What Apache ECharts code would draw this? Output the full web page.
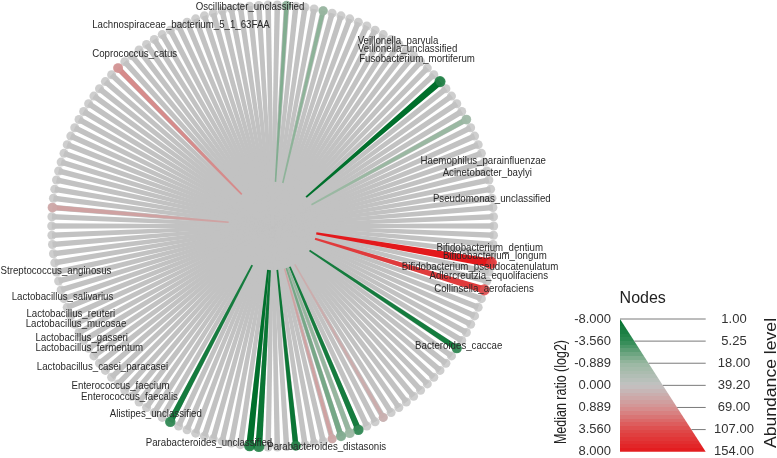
<!DOCTYPE html>
<html><head><meta charset="utf-8">
<script src="https://cdn.jsdelivr.net/npm/echarts/dist/echarts.min.js"></script>
<style>html,body{margin:0;padding:0;background:#fff}#c{width:777px;height:458px}</style>
</head><body><div id="c"></div>
<script>
// ---------------- DATA ----------------
const nodeCount = 150;
const nodeIds = Array.from({length: nodeCount}, (_, i) => 'node' + i);
// highlighted (coloured) nodes: position index around the circle, median ratio (log2), abundance
const hiIndex     = [1, 5, 20, 25, 41, 44, 51, 62, 65, 66, 67, 68, 72, 76, 77, 86, 114, 131];
const hiRatio     = [-1.5, -1.2, -8, -0.9, 8, 5, -6, 0.4, -6, -1.0, -1.8, 0.6, -7, -7, -8, -6, 0.6, 1.2];
const hiAbundance = [12, 12, 60, 20, 125, 60, 30, 8, 40, 25, 30, 8, 30, 60, 60, 40, 20, 25];
const ratioTicks = [-8, -3.56, -0.889, 0, 0.889, 3.56, 8];
const ratioTickLabels = ['-8.000', '-3.560', '-0.889', '0.000', '0.889', '3.560', '8.000'];
const abundanceTicks = [1, 5.25, 18, 39.2, 69, 107, 154];
const abundanceTickLabels = ['1.00', '5.25', '18.00', '39.20', '69.00', '107.00', '154.00'];
const labelNames = [
  'Oscillibacter_unclassified', 'Lachnospiraceae_bacterium_5_1_63FAA', 'Coprococcus_catus',
  'Veillonella_parvula', 'Veillonella_unclassified', 'Fusobacterium_mortiferum',
  'Haemophilus_parainfluenzae', 'Acinetobacter_baylyi', 'Pseudomonas_unclassified',
  'Bifidobacterium_dentium', 'Bifidobacterium_longum', 'Bifidobacterium_pseudocatenulatum',
  'Adlercreutzia_equolifaciens', 'Collinsella_aerofaciens', 'Bacteroides_caccae',
  'Parabacteroides_distasonis', 'Streptococcus_anginosus', 'Lactobacillus_salivarius',
  'Lactobacillus_reuteri', 'Lactobacillus_mucosae', 'Lactobacillus_gasseri',
  'Lactobacillus_fermentum', 'Lactobacillus_casei_paracasei', 'Enterococcus_faecium',
  'Enterococcus_faecalis', 'Alistipes_unclassified', 'Parabacteroides_unclassified'
];

// ---------------- LAYOUT / STYLE ----------------
const labelPos = [
  [250, 7], [181, 24.5], [134.7, 53.5],
  [398, 41], [407.5, 49], [417, 59],
  [483.3, 161], [487.3, 173], [491.8, 199],
  [489.7, 248], [494.8, 256], [480, 267],
  [488.8, 276], [484, 288.5], [458.7, 346],
  [326.7, 447], [56, 271], [62.5, 297],
  [70.8, 314], [76, 324], [81.7, 338],
  [89.3, 347.5], [102.5, 367], [120.5, 386],
  [129.5, 397], [155.8, 414], [209, 443]
];
const ratioColors = ['#00702c', '#2f8a53', '#9ab8a2', '#c2c2c2', '#d59393', '#df4b4b', '#e3191c'];
const GREY = '#c2c2c2';
const CENTER = [272.7, 226], RADIUS = 221;
const R_IN = 0.2; // inner start of coloured spokes (fraction of radius)
const FONT = '"Liberation Sans", Arial, sans-serif';

function piece(v, ticks) {
  if (v <= ticks[0]) return 0;
  for (let i = 1; i < ticks.length; i++) {
    if (v <= ticks[i]) return (i - 1 + (v - ticks[i - 1]) / (ticks[i] - ticks[i - 1])) / (ticks.length - 1);
  }
  return 1;
}
function hex(c) { return [parseInt(c.slice(1, 3), 16), parseInt(c.slice(3, 5), 16), parseInt(c.slice(5, 7), 16)]; }
function colorAtT(t) {
  const n = ratioColors.length - 1, x = Math.min(n - 1e-9, Math.max(0, t * n)), i = Math.floor(x), f = x - i;
  const a = hex(ratioColors[i]), b = hex(ratioColors[i + 1]);
  return 'rgb(' + a.map((v, k) => Math.round(v + (b[k] - v) * f)).join(',') + ')';
}
function colorOf(r) { return colorAtT(piece(r, ratioTicks)); }
function sizeT(a) { return piece(a, abundanceTicks); }

const hiData = hiIndex.map((idx, k) => [1, idx, hiRatio[k], hiAbundance[k]]);
const allData = nodeIds.map((id, i) => [1, i]);

function wedge(api, rIn, wIn, wOut, color) {
  const idx = api.value(1);
  const p0 = api.coord([rIn, idx]);
  const p1 = api.coord([1, idx]);
  const dx = p1[0] - p0[0], dy = p1[1] - p0[1], len = Math.hypot(dx, dy);
  const nx = -dy / len, ny = dx / len;
  return {
    type: 'polygon',
    shape: { points: [
      [p0[0] + nx * wIn / 2, p0[1] + ny * wIn / 2],
      [p1[0] + nx * wOut / 2, p1[1] + ny * wOut / 2],
      [p1[0] - nx * wOut / 2, p1[1] - ny * wOut / 2],
      [p0[0] - nx * wIn / 2, p0[1] - ny * wIn / 2]
    ] },
    style: { fill: color }
  };
}

// legend geometry
const LG = { left: 620, right: 705.7, top: 319, bottom: 451.7 };
const legendGraphics = [];
(function () {
  const B = 36, stops = [];
  for (let k = 0; k < B; k++) {
    const c = colorAtT((k + 0.5) / B);
    stops.push({ offset: k / B, color: c }, { offset: (k + 1) / B, color: c });
  }
  legendGraphics.push({
    type: 'polygon', z: 10,
    shape: { points: [[LG.left, LG.top], [LG.left, LG.bottom], [LG.right, LG.bottom]] },
    style: { fill: new echarts.graphic.LinearGradient(0, 0, 0, 1, stops) }
  });
  const n = ratioTicks.length;
  for (let i = 0; i < n; i++) {
    const y = LG.top + (LG.bottom - LG.top) * i / (n - 1);
    const xh = LG.left + (LG.right - LG.left) * i / (n - 1);
    if (i < n - 1) legendGraphics.push({ type: 'line', z: 11,
      shape: { x1: xh, y1: y, x2: LG.right, y2: y }, style: { stroke: '#7a7a7a', lineWidth: 1 } });
    legendGraphics.push({ type: 'text', z: 11, x: 611, y: y,
      style: { text: ratioTickLabels[i], font: '13px ' + FONT, fill: '#333', align: 'right', verticalAlign: 'middle' } });
    legendGraphics.push({ type: 'text', z: 11, x: 734, y: y,
      style: { text: abundanceTickLabels[i], font: '13px ' + FONT, fill: '#333', align: 'center', verticalAlign: 'middle' } });
  }
  legendGraphics.push({ type: 'text', z: 11, x: 642.7, y: 299,
    style: { text: 'Nodes', font: '16px ' + FONT, fill: '#222', align: 'center', verticalAlign: 'middle' } });
  legendGraphics.push({ type: 'text', z: 11, x: 562, y: 392, rotation: Math.PI / 2, scaleX: 0.78,
    style: { text: 'Median ratio (log2)', font: '16px ' + FONT, fill: '#222', align: 'center', verticalAlign: 'middle' } });
  legendGraphics.push({ type: 'text', z: 11, x: 771.5, y: 383, rotation: Math.PI / 2, scaleX: 1.1,
    style: { text: 'Abundance level', font: '16px ' + FONT, fill: '#222', align: 'center', verticalAlign: 'middle' } });
})();
const labelGraphics = labelNames.map((t, i) => ({
  type: 'text', z: 20, x: labelPos[i][0], y: labelPos[i][1], scaleX: 0.88,
  style: { text: t, font: '11px ' + FONT, fill: '#2a2a2a', align: 'center', verticalAlign: 'middle' }
}));

const chart = echarts.init(document.getElementById('c'), null, { renderer: 'canvas' });
chart.setOption({
  animation: false,
  backgroundColor: '#fff',
  polar: { center: CENTER, radius: RADIUS },
  angleAxis: { type: 'category', data: nodeIds, startAngle: 90, clockwise: true, boundaryGap: true,
    axisLine: { show: false }, axisTick: { show: false }, axisLabel: { show: false }, splitLine: { show: false } },
  radiusAxis: { type: 'value', min: 0, max: 1,
    axisLine: { show: false }, axisTick: { show: false }, axisLabel: { show: false }, splitLine: { show: false } },
  series: [
    { type: 'custom', coordinateSystem: 'polar', data: allData, silent: true, z: 1,
      renderItem: (params, api) => wedge(api, 0, 3.0, 5.6, GREY) },
    { type: 'custom', coordinateSystem: 'polar', data: hiData, silent: true, z: 2,
      renderItem: (params, api) => {
        const t = sizeT(api.value(3));
        return wedge(api, R_IN, 1.2 + 1.2 * t, 2.5 + 7 * t, colorOf(api.value(2)));
      } },
    { type: 'scatter', coordinateSystem: 'polar', data: allData, symbol: 'circle', symbolSize: 9, z: 3,
      itemStyle: { color: GREY }, silent: true },
    { type: 'scatter', coordinateSystem: 'polar', data: hiData, symbol: 'circle', z: 4, silent: true,
      symbolSize: v => 8 + 5 * sizeT(v[3]),
      itemStyle: { color: p => colorOf(p.value[2]) } }
  ],
  graphic: { elements: legendGraphics.concat(labelGraphics) }
});
</script></body></html>
